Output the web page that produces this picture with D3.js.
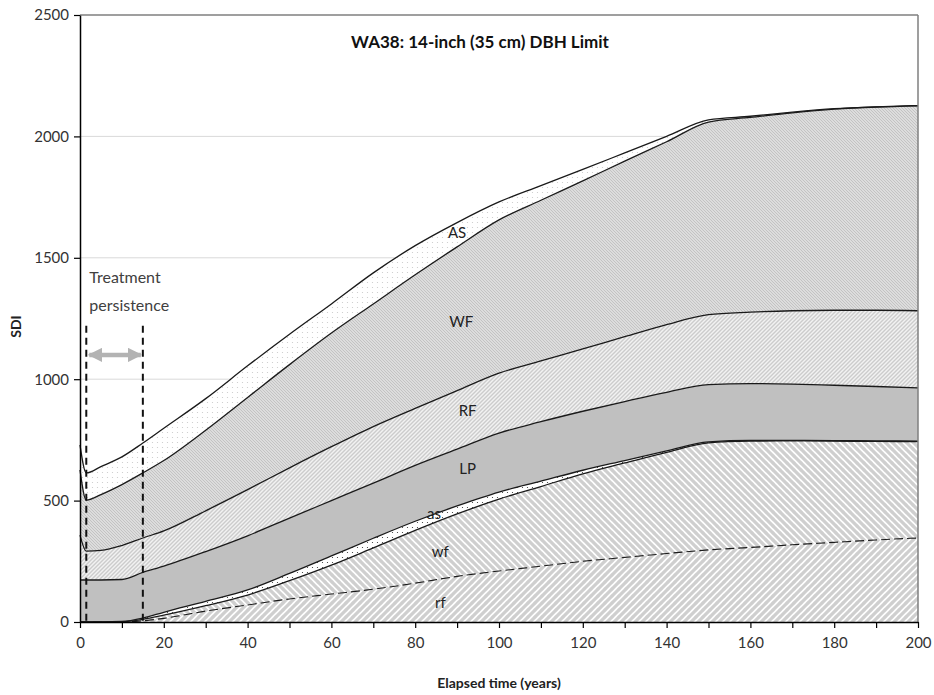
<!DOCTYPE html>
<html>
<head>
<meta charset="utf-8">
<script src="https://d3js.org/d3.v7.min.js"></script>
<style>
  body { margin: 0; background: #fff; }
  svg { font-family: Lato, "Open Sans", sans-serif; }
</style>
</head>
<body>
<svg width="934" height="695"></svg>
<script>

// elapsed years (0 = pre-treatment, 1.5 = right after treatment)
var years = [0, 1.5, 5, 10, 15, 20, 30, 40, 50, 60, 70, 80, 90, 100, 110, 120, 130, 140, 150, 160, 170, 180, 190, 200];

// SDI per species group (bottom to top of the stack)
var rf = [0, 0, 0, 0, 5, 15, 45, 70, 95, 115, 135, 160, 188, 210, 230, 250, 266, 282, 297, 307, 318, 328, 338, 346];
var wf = [0, 0, 0, 1, 6, 13, 22, 41, 75, 119, 170, 217, 257, 296, 328, 360, 389, 417, 441, 438, 428, 417, 406, 397];
var as = [0, 0, 0, 1, 5, 12, 18, 21, 30, 38, 40, 38, 33, 29, 22, 15, 10, 6, 4, 3, 2, 2, 2, 2];
var LP = [173, 173, 173, 173, 188, 190, 205, 223, 228, 228, 227, 230, 234, 243, 245, 243, 243, 241, 236, 234, 232, 228, 224, 219];
var RF = [185, 119, 122, 140, 142, 145, 168, 190, 207, 222, 233, 235, 241, 247, 250, 257, 267, 279, 288, 294, 302, 309, 314, 318];
var WF = [268, 210, 230, 251, 268, 290, 332, 380, 425, 468, 505, 550, 592, 631, 662, 692, 723, 753, 793, 802, 815, 828, 837, 844];
var AS = [103, 112, 115, 114, 123, 133, 130, 130, 125, 120, 128, 120, 100, 74, 60, 47, 34, 22, 9, 5, 3, 2, 1, 1];

var seriesNames = ["rf", "wf", "as", "LP", "RF", "WF", "AS"];
var seriesValues = { rf: rf, wf: wf, as: as, LP: LP, RF: RF, WF: WF, AS: AS };

var yTicks = [0, 500, 1000, 1500, 2000, 2500];
var xTicks = d3.range(0, 201, 10);

// treatment persistence window
var persistence = [1.5, 15];

// where the band names sit (year, SDI)
var bandLabels = [
  { name: "AS", t: 90, v: 1602 },
  { name: "WF", t: 91, v: 1235 },
  { name: "RF", t: 92.5, v: 869 },
  { name: "LP", t: 92.5, v: 631 },
  { name: "as", t: 84.5, v: 445 },
  { name: "wf", t: 86, v: 288 },
  { name: "rf", t: 86, v: 78 }
];

var svg = d3.select("svg");
var margin = { top: 15, right: 16, bottom: 73, left: 80 };
var width = 934 - margin.left - margin.right,
    height = 695 - margin.top - margin.bottom;

var x = d3.scaleLinear().domain([0, 200]).range([0, width]);
var y = d3.scaleLinear().domain([0, 2500]).range([height, 0]);

var defs = svg.append("defs");

function stripes(id, size, bg, fg, sw, dir) {
  var p = defs.append("pattern")
      .attr("id", id)
      .attr("patternUnits", "userSpaceOnUse")
      .attr("width", size).attr("height", size);
  p.append("rect").attr("width", size).attr("height", size).attr("fill", bg);
  var d = dir > 0
    ? "M0," + size + "L" + size + ",0M-1,1L1,-1M" + (size - 1) + "," + (size + 1) + "L" + (size + 1) + "," + (size - 1)
    : "M0,0L" + size + "," + size + "M-1," + (size - 1) + "L1," + (size + 1) + "M" + (size - 1) + ",-1L" + (size + 1) + ",1";
  p.append("path").attr("d", d).attr("stroke", fg).attr("stroke-width", sw);
}

function dots(id, size, bg, fg, r) {
  var p = defs.append("pattern")
      .attr("id", id)
      .attr("patternUnits", "userSpaceOnUse")
      .attr("width", size).attr("height", size);
  p.append("rect").attr("width", size).attr("height", size).attr("fill", bg);
  p.append("circle").attr("cx", size / 2).attr("cy", size / 2).attr("r", r).attr("fill", fg);
}

stripes("p-rf", 7, "#ffffff", "#cfcfcf", 3.2, 1);
stripes("p-wf", 7, "#ffffff", "#cfcfcf", 3.2, -1);
dots("p-as", 5, "#ffffff", "#333333", 0.6);
stripes("p-RF", 4, "#f2f2f2", "#cccccc", 1.4, 1);
stripes("p-WF", 3, "#e9e9e9", "#c2c2c2", 1.2, -1);
dots("p-AS", 5, "#ffffff", "#c8c8c8", 0.6);

var fills = {
  rf: "url(#p-rf)", wf: "url(#p-wf)", as: "url(#p-as)",
  LP: "#c0c0c0", RF: "url(#p-RF)", WF: "url(#p-WF)", AS: "url(#p-AS)"
};

var table = years.map(function(t, i) {
  var row = { t: t };
  seriesNames.forEach(function(k) { row[k] = seriesValues[k][i]; });
  return row;
});

var stacked = d3.stack().keys(seriesNames)(table);

var g = svg.append("g").attr("transform", "translate(" + margin.left + "," + margin.top + ")");

// gridlines
g.append("g").selectAll("line")
  .data(yTicks.slice(1, -1))
  .enter().append("line")
    .attr("x1", 0).attr("x2", width)
    .attr("y1", function(d) { return y(d); })
    .attr("y2", function(d) { return y(d); })
    .attr("stroke", "#d9d9d9");

var area = d3.area()
    .curve(d3.curveMonotoneX)
    .x(function(d) { return x(d.data.t); })
    .y0(function(d) { return y(d[0]); })
    .y1(function(d) { return y(d[1]); });

var line = d3.line()
    .curve(d3.curveMonotoneX)
    .x(function(d) { return x(d.data.t); })
    .y(function(d) { return y(d[1]); });

g.selectAll(".band")
  .data(stacked)
  .enter().append("path")
    .attr("class", "band")
    .attr("d", area)
    .attr("fill", function(d) { return fills[d.key]; });

g.selectAll(".edge")
  .data(stacked)
  .enter().append("path")
    .attr("class", "edge")
    .attr("d", line)
    .attr("fill", "none")
    .attr("stroke", "#1a1a1a")
    .attr("stroke-width", function(d) { return d.key == "rf" ? 1.1 : 1.3; })
    .attr("stroke-dasharray", function(d) { return d.key == "rf" ? "9,4" : null; });

// plot frame (top and right)
g.append("line").attr("x1", 0).attr("x2", width).attr("y1", 0).attr("y2", 0)
  .attr("stroke", "#404040").attr("stroke-width", 1.2);
g.append("line").attr("x1", width).attr("x2", width).attr("y1", 0).attr("y2", height)
  .attr("stroke", "#7f7f7f").attr("stroke-width", 1.5);

// band names
g.selectAll(".blab")
  .data(bandLabels)
  .enter().append("text")
    .attr("x", function(d) { return x(d.t); })
    .attr("y", function(d) { return y(d.v); })
    .attr("dy", "0.35em")
    .attr("text-anchor", "middle")
    .attr("font-size", 15)
    .attr("fill", "#222")
    .text(function(d) { return d.name; });

// treatment persistence markers
g.selectAll(".persist")
  .data(persistence)
  .enter().append("line")
    .attr("x1", function(d) { return x(d); })
    .attr("x2", function(d) { return x(d); })
    .attr("y1", y(1220)).attr("y2", height)
    .attr("stroke", "#111")
    .attr("stroke-width", 2)
    .attr("stroke-dasharray", "7,5");

var arrowY = y(1100);
defs.append("marker")
    .attr("id", "head")
    .attr("viewBox", "0 0 10 10")
    .attr("refX", 9).attr("refY", 5)
    .attr("markerWidth", 3.2).attr("markerHeight", 3.2)
    .attr("orient", "auto-start-reverse")
  .append("path")
    .attr("d", "M0,0L10,5L0,10z")
    .attr("fill", "#b3b3b3");

g.append("line")
    .attr("x1", x(persistence[0]) + 3).attr("x2", x(persistence[1]) - 2)
    .attr("y1", arrowY).attr("y2", arrowY)
    .attr("stroke", "#b3b3b3")
    .attr("stroke-width", 4.5)
    .attr("marker-start", "url(#head)")
    .attr("marker-end", "url(#head)");

var tp = g.append("text")
    .attr("x", x(persistence[0]) + 3)
    .attr("font-size", 16)
    .attr("fill", "#404040");
tp.append("tspan").attr("x", x(persistence[0]) + 3).attr("y", y(1395)).text("Treatment");
tp.append("tspan").attr("x", x(persistence[0]) + 3).attr("y", y(1280)).text("persistence");

// axes
var yAxis = g.append("g")
    .call(d3.axisLeft(y).tickValues(yTicks).tickSize(6).tickSizeOuter(0).tickPadding(5)
      .tickFormat(d3.format("d")));
var xAxis = g.append("g")
    .attr("transform", "translate(0," + height + ")")
    .call(d3.axisBottom(x).tickValues(xTicks).tickSize(6).tickSizeOuter(0).tickPadding(9)
      .tickFormat(function(d) { return d % 20 == 0 ? d : ""; }));

[yAxis, xAxis].forEach(function(a) {
  a.select(".domain").attr("stroke", "#000").attr("stroke-width", 1.5);
  a.selectAll(".tick line").attr("stroke", "#000").attr("stroke-width", 1.2);
  a.selectAll("text").attr("font-family", "Lato, sans-serif").attr("font-size", 15).attr("fill", "#333");
});

// titles
svg.append("text")
    .attr("x", 480).attr("y", 48)
    .attr("text-anchor", "middle")
    .attr("font-size", 17)
    .attr("font-weight", "bold")
    .attr("fill", "#111")
    .text("WA38: 14-inch (35 cm) DBH Limit");

svg.append("text")
    .attr("transform", "translate(21," + (margin.top + height / 2 + 8) + ") rotate(-90)")
    .attr("text-anchor", "middle")
    .attr("font-size", 14)
    .attr("font-weight", "bold")
    .attr("fill", "#222")
    .text("SDI");

svg.append("text")
    .attr("x", margin.left + width / 2).attr("y", 688)
    .attr("text-anchor", "middle")
    .attr("font-size", 14)
    .attr("font-weight", "bold")
    .attr("fill", "#222")
    .text("Elapsed time (years)");

</script>
</body>
</html>
